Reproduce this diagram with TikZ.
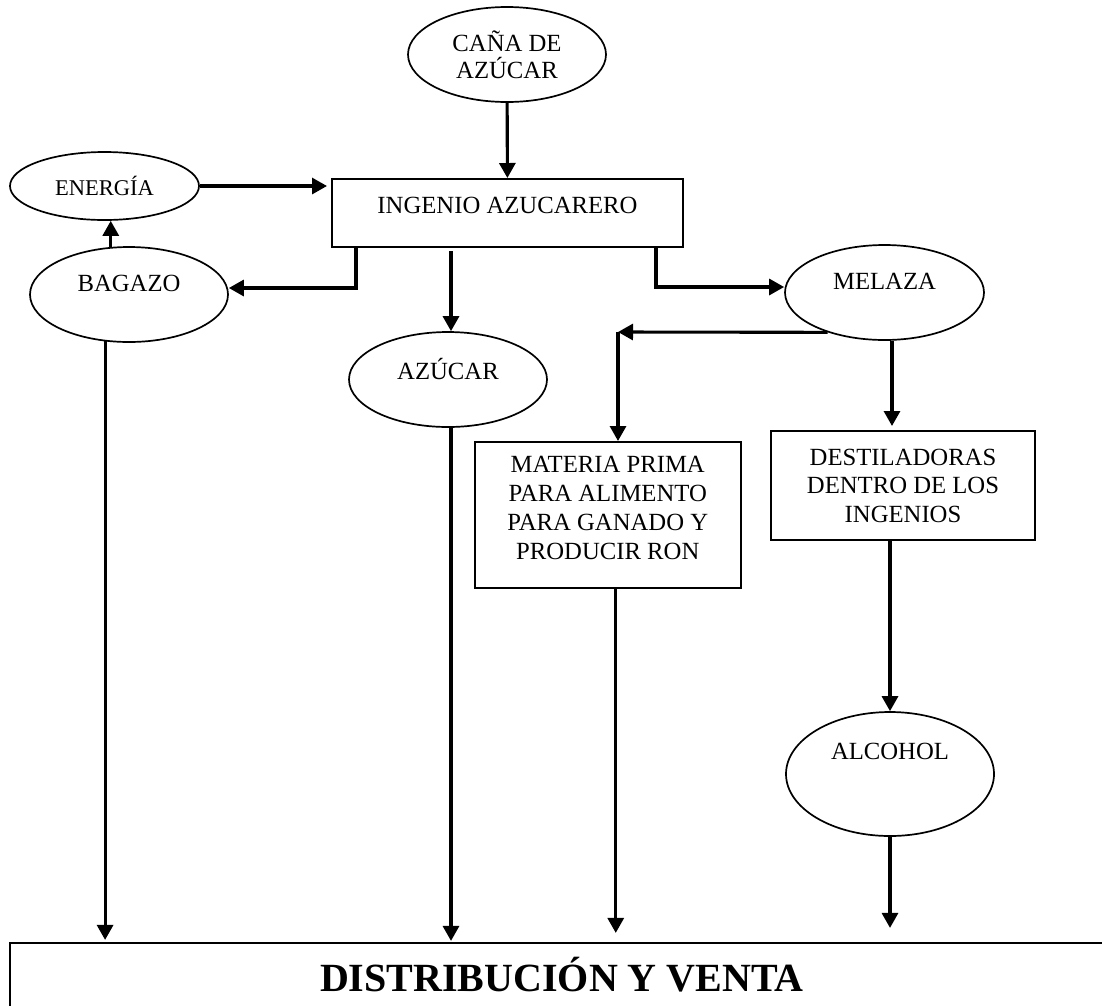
\documentclass[tikz,border=0pt]{standalone}
\usepackage{fontspec}
\setmainfont{Liberation Serif}
\usetikzlibrary{arrows.meta,shapes.geometric,calc}
% raise a label inside its node without changing the node's size
\newcommand{\liftby}[2]{\raisebox{#1}[\height][\depth]{#2}}

\begin{document}
\begin{tikzpicture}[x=1pt,y=-1pt,
  every node/.style={font=\fontsize{24.7}{29}\selectfont, inner sep=0pt, align=center},
  oval/.style={draw, line width=1.7pt, ellipse, minimum width=198pt, minimum height=95pt},
  stepbox/.style={draw, line width=2pt, rectangle},
  flow/.style={line width=3.1pt, -{Triangle[length=15pt,width=16pt]}}]

\useasboundingbox (0,0) rectangle (1102,1005);
\clip (0,0) rectangle (1102,1005);

% nodes
\node[oval, font=\fontsize{24.7}{27}\selectfont] (cane) at (507,54.5) {CAÑA DE\\AZÚCAR};
\node[stepbox, minimum width=351pt, minimum height=68pt] (ingenio) at (507.5,213)
  {\liftby{8pt}{INGENIO AZUCARERO}};
\node[oval, minimum width=189pt, minimum height=68pt, font=\fontsize{22.5}{27}\selectfont]
  (energia) at (104.5,186) {ENERGÍA};
\node[oval] (bagazo) at (129,294.5) {\liftby{11pt}{BAGAZO}};
\node[oval] (azucar) at (448,379.5) {\liftby{10pt}{AZÚCAR}};
\node[oval, minimum width=199pt] (melaza) at (884.5,292.5) {\liftby{11pt}{MELAZA}};
\node[stepbox, minimum width=266.5pt, minimum height=146pt] (materia) at (607.75,515)
  {\liftby{5pt}{\begin{tabular}{@{}c@{}}MATERIA PRIMA\\PARA ALIMENTO\\PARA GANADO Y\\PRODUCIR RON\end{tabular}}};
\node[stepbox, minimum width=264pt, minimum height=109pt, font=\fontsize{24.7}{28.5}\selectfont]
  (destil) at (903,485.5) {DESTILADORAS\\DENTRO DE LOS\\INGENIOS};
\node[oval, minimum width=208pt, minimum height=124pt] (alcohol) at (890,774)
  {\liftby{22.5pt}{ALCOHOL}};
\node[draw, line width=2.2pt, rectangle, minimum width=1104pt, minimum height=68pt,
  text height=28pt, text depth=0pt, font=\bfseries\fontsize{40}{48}\selectfont]
  (venta) at (562,977) {DISTRIBUCIÓN Y VENTA};

% connectors
\coordinate (b1) at (356,288);
\coordinate (m1) at (656,287);
\coordinate (m2) at (618,332);
\coordinate (mo) at ($(materia.south)+(8,0)$);

\draw[flow] (cane) -- (ingenio);
\draw[flow, shorten >=4pt] (energia) -- (energia -| ingenio.west);
\draw[flow] (bagazo.111) -- (bagazo.111 |- energia.south);
\draw[flow] (ingenio.south -| b1) -- (b1) -- (b1 -| bagazo.east);
\draw[flow] ($(ingenio.south -| azucar.north)+(3,3)$) -- ($(azucar.north)+(3,0)$);
\draw[flow] (ingenio.south -| m1) -- (m1) -- (m1 -| melaza.west);
\draw[flow] (melaza.215) -- (m2);
\draw[flow] (m2) -- (m2 |- materia.north);
\draw[flow, shorten >=4pt] ($(melaza.south)+(7.5,0)$) -- ($(destil.north)+(-11,0)$);
\draw[flow] (destil.south -| alcohol.north) -- (alcohol.north);
\draw[flow, shorten >=14pt] (alcohol.south) -- (alcohol.south |- venta.north);
\draw[flow, shorten >=2pt] (bagazo.243) -- (bagazo.243 |- venta.north);
\draw[flow, shorten >=1pt] ($(azucar.south)+(3,0)$) -- ($(azucar.south |- venta.north)+(3,0)$);
\draw[flow, shorten >=9pt] (mo) -- (mo |- venta.north);
\end{tikzpicture}
\end{document}
